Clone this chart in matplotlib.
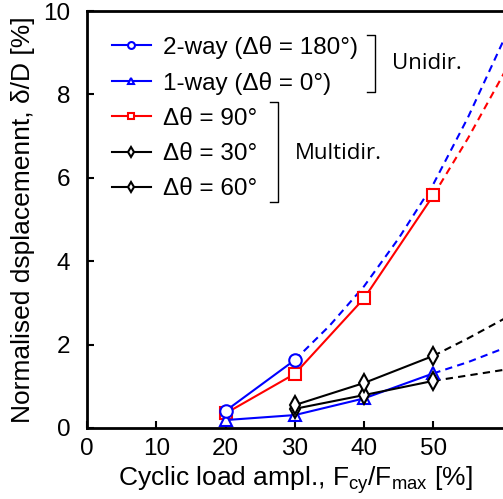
import numpy as np
import matplotlib
matplotlib.use('Agg')
import matplotlib.pyplot as plt

plt.rcParams['font.family'] = ['Liberation Sans', 'DejaVu Sans']
plt.rcParams['mathtext.fontset'] = 'custom'
plt.rcParams['mathtext.rm'] = 'Liberation Sans'

# 测量数据
x_twoway = [20, 30]
y_twoway = [0.41, 1.63]
x_oneway = [20, 30, 40, 50]
y_oneway = [0.19, 0.31, 0.71, 1.31]
x_d90 = [20, 30, 40, 50]
y_d90 = [0.35, 1.30, 3.11, 5.58]
x_d30 = [30, 40, 50]
y_d30 = [0.46, 0.79, 1.13]
x_d60 = [30, 40, 50]
y_d60 = [0.55, 1.08, 1.73]

# 外推（虚线）
xe_twoway = [30, 35, 40, 45, 50, 55, 60, 62]
ye_twoway = [1.63, 2.45, 3.40, 4.55, 5.85, 7.45, 9.25, 10.0]
xe_d90 = [50, 55, 60, 62]
ye_d90 = [5.58, 6.95, 8.45, 9.1]
xe_oneway = [50, 55, 60, 62]
ye_oneway = [1.31, 1.58, 1.90, 2.05]
xe_d30 = [50, 55, 60, 62]
ye_d30 = [1.13, 1.26, 1.39, 1.45]
xe_d60 = [50, 55, 60, 62]
ye_d60 = [1.73, 2.15, 2.60, 2.8]

fig = plt.figure(figsize=(5.03, 4.99), dpi=100)
ax = fig.add_axes([87 / 503, 71 / 499, 416 / 503, 417 / 499])

mk = dict(markersize=9, markerfacecolor='white', markeredgewidth=1.5, linewidth=1.5)
dash = dict(linestyle=(0, (3.5, 2.5)), linewidth=1.5)

ax.plot(xe_twoway, ye_twoway, color='blue', **dash)
ax.plot(xe_d90, ye_d90, color='red', **dash)
ax.plot(xe_oneway, ye_oneway, color='blue', **dash)
ax.plot(xe_d30, ye_d30, color='black', **dash)
ax.plot(xe_d60, ye_d60, color='black', **dash)

ax.plot(x_d90, y_d90, color='red', marker='s', label='Δθ = 90°', **mk)
ax.plot(x_oneway, y_oneway, color='blue', marker='^', label='1-way (Δθ = 0°)', **mk)
ax.plot(x_d30, y_d30, color='black', marker='d', label='Δθ = 30°', **mk)
ax.plot(x_d60, y_d60, color='black', marker='d', label='Δθ = 60°', **mk)
ax.plot(x_twoway, y_twoway, color='blue', marker='o', label='2-way (Δθ = 180°)', **mk)

ax.set_xlim(0, 60.05)
ax.set_ylim(0, 10)
ax.set_xticks([0, 10, 20, 30, 40, 50])
ax.set_yticks([0, 2, 4, 6, 8, 10])
ax.tick_params(direction='in', length=5, width=1.5, labelsize=17.5)
ax.tick_params(axis='x', pad=7)
ax.tick_params(axis='y', pad=12)
for s in ['left', 'bottom', 'top']:
    ax.spines[s].set_linewidth(2)
ax.spines['right'].set_visible(False)

ax.set_xlabel('Cyclic load ampl., F$_\\mathregular{cy}$/F$_\\mathregular{max}$ [%]', fontsize=19, labelpad=3)
ax.set_ylabel('Normalised dsplacemennt, δ/D [%]', fontsize=19, labelpad=6)

# 图例顺序
h, l = ax.get_legend_handles_labels()
order = [4, 1, 0, 2, 3]
ax.legend([h[i] for i in order], [l[i] for i in order], loc='upper left',
          bbox_to_anchor=(0.03, 0.97), frameon=False, fontsize=17.5,
          markerscale=0.55, handlelength=1.6, handletextpad=0.5,
          labelspacing=0.54, borderpad=0)

# 括号
ax.plot([0.673, 0.692, 0.692, 0.673], [0.942, 0.942, 0.806, 0.806],
        transform=ax.transAxes, color='black', linewidth=1, clip_on=False)
ax.plot([0.44, 0.459, 0.459, 0.44], [0.782, 0.782, 0.542, 0.542],
        transform=ax.transAxes, color='black', linewidth=1, clip_on=False)
ax.text(0.733, 0.875, 'Unidir.', transform=ax.transAxes, fontsize=16,
        family='Open Sans', va='center', ha='left')
ax.text(0.50, 0.659, 'Multidir.', transform=ax.transAxes, fontsize=16,
        family='Open Sans', va='center', ha='left')

fig.savefig('out.png', dpi=100)
